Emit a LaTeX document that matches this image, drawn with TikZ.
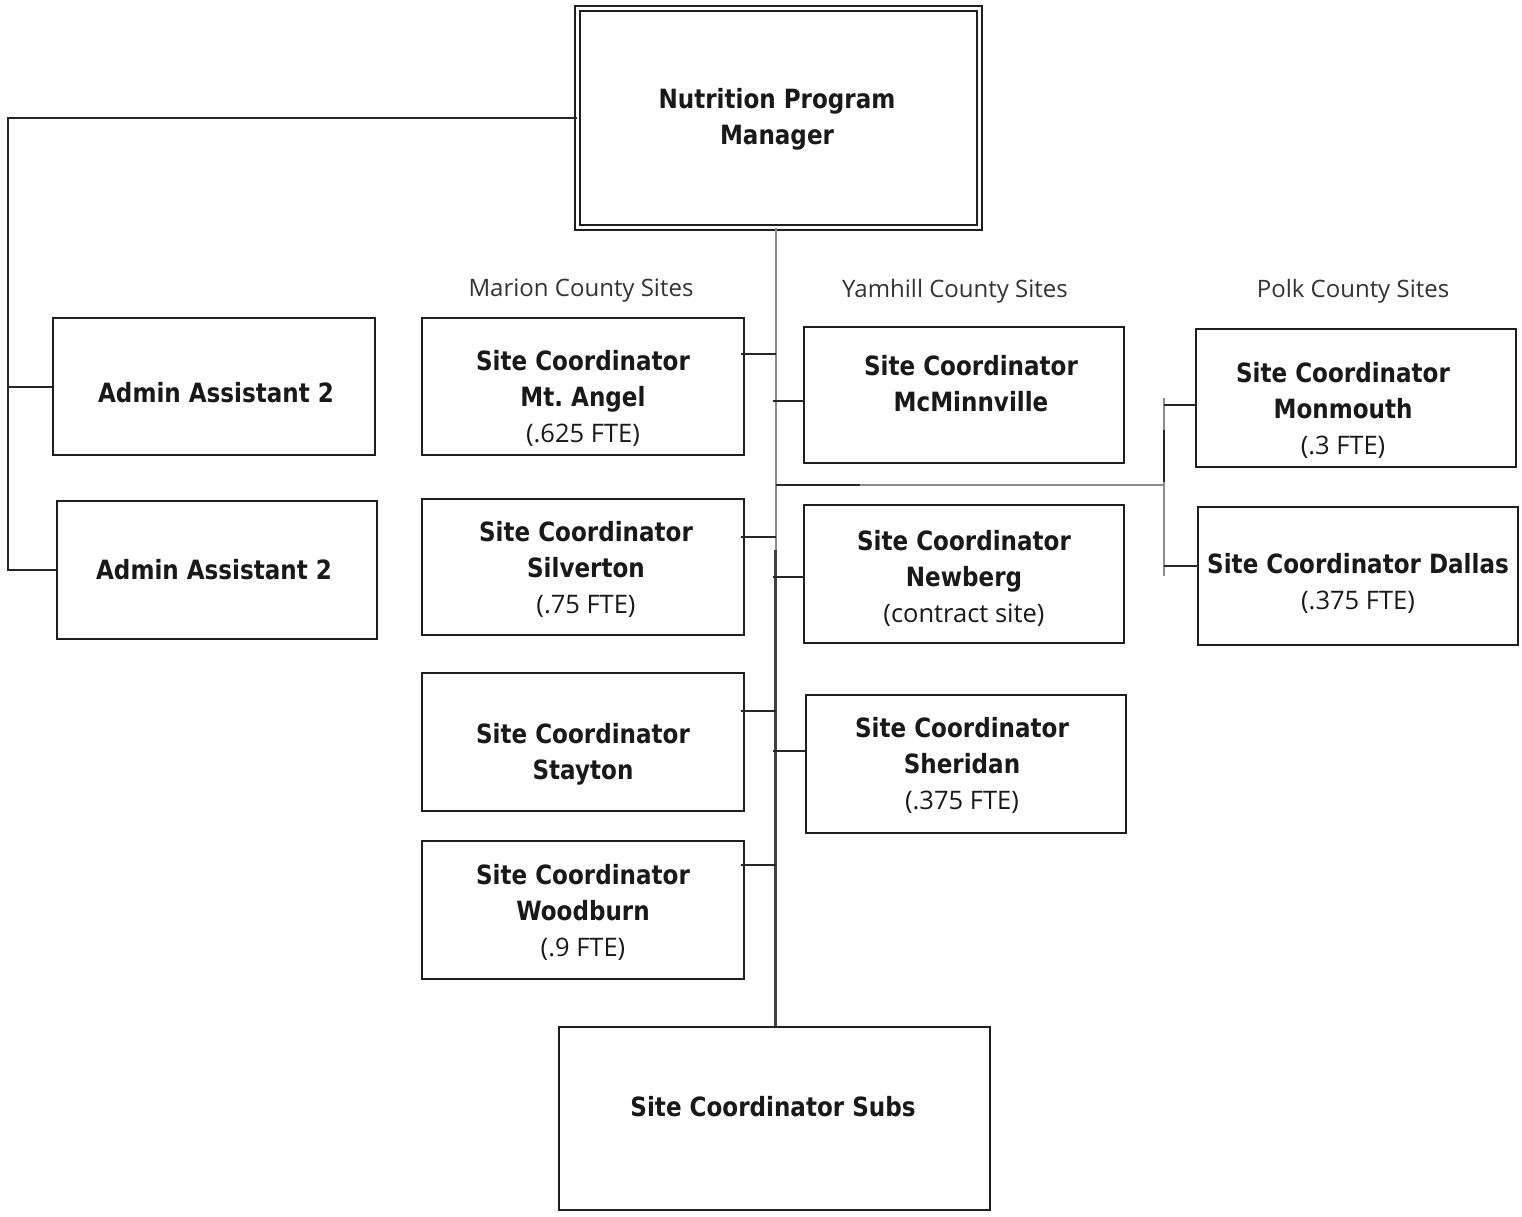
\documentclass[tikz,border=0pt]{standalone}
\usepackage{fontspec}
\setmainfont{Open Sans}
\newfontfamily\boxbold{DejaVu Sans}[FakeStretch=0.87]
\usetikzlibrary{calc}
\newcommand{\bl}[1]{{\boxbold\bfseries\fontsize{26.5}{36}\selectfont #1}}
\frenchspacing
\begin{document}
\begin{tikzpicture}[x=1pt,y=-1pt,
  box/.style={draw=black!88, line width=2pt, rectangle, inner sep=0pt, fill=white},
  txt/.style={align=center, inner sep=0pt, text=black!90,
    font={\fontsize{25.5}{36}\selectfont}},
  lbl/.style={inner sep=0pt, text=black!80, font={\fontsize{24}{28}\selectfont}},
  dline/.style={draw=black!85, line width=2pt},
  gline/.style={draw=black!45, line width=2pt},
  bline/.style={draw=black!75, line width=2.4pt}]
\useasboundingbox[fill=white] (0,0) rectangle (1522,1217);

% ---- boxes ----
\node[box, double, double distance=3pt, line width=2pt, minimum width=402pt, minimum height=219pt] (mgr) at (778.5,117.75) {};
\node[box, minimum width=322pt, minimum height=137pt] (aa1) at (214,386.5) {};
\node[box, minimum width=320pt, minimum height=138pt] (aa2) at (217,570) {};
\node[box, minimum width=322pt, minimum height=137pt] (ma)  at (583,386.5) {};
\node[box, minimum width=322pt, minimum height=136pt] (sil) at (583,567) {};
\node[box, minimum width=322pt, minimum height=138pt] (sta) at (583,742) {};
\node[box, minimum width=322pt, minimum height=138pt] (woo) at (583,910) {};
\node[box, minimum width=320pt, minimum height=136pt] (mcm) at (964,395) {};
\node[box, minimum width=320pt, minimum height=138pt] (new) at (964,574) {};
\node[box, minimum width=320pt, minimum height=138pt] (she) at (966,764) {};
\node[box, minimum width=320pt, minimum height=138pt] (mon) at (1356,398) {};
\node[box, minimum width=320pt, minimum height=138pt] (dal) at (1358,576) {};
\node[box, minimum width=431pt, minimum height=183pt] (subs) at (774.5,1118.5) {};

% ---- box texts ----
\node[txt] (tmgr) at (777,119) {\bl{Nutrition Program}\\\bl{Manager}};
\node[txt] (taa1) at (216,393) {\bl{Admin Assistant 2}};
\node[txt] (taa2) at (214,570) {\bl{Admin Assistant 2}};
\node[txt] (tma)  at (583,398) {\bl{Site Coordinator}\\\bl{Mt. Angel}\\(.625 FTE)};
\node[txt] (tsil) at (586,569) {\bl{Site Coordinator}\\\bl{Silverton}\\(.75 FTE)};
\node[txt] (tsta) at (583,754) {\bl{Site Coordinator}\\\bl{Stayton}};
\node[txt] (twoo) at (583,912) {\bl{Site Coordinator}\\\bl{Woodburn}\\(.9 FTE)};
\node[txt] (tmcm) at (971,384) {\bl{Site Coordinator}\\\bl{McMinnville}};
\node[txt] (tnew) at (964,578) {\bl{Site Coordinator}\\\bl{Newberg}\\(contract site)};
\node[txt] (tshe) at (962,765) {\bl{Site Coordinator}\\\bl{Sheridan}\\(.375 FTE)};
\node[txt] (tmon) at (1343,410) {\bl{Site Coordinator}\\\bl{Monmouth}\\(.3 FTE)};
\node[txt] (tdal) at (1358,583) {\bl{Site Coordinator Dallas}\\(.375 FTE)};
\node[txt] (tsubs) at (773,1107) {\bl{Site Coordinator Subs}};

% ---- county headings ----
\node[lbl] (hmar) at (581,291) {Marion County Sites};
\node[lbl] (hyam) at (955,291) {Yamhill County Sites};
\node[lbl] (hpol) at (1353,291) {Polk County Sites};

% ---- admin branch ----
\coordinate (lx) at (8,117.75);
\draw[dline] (mgr.west) -- (lx) -- (lx |- aa2.west) -- (aa2.west);
\draw[dline] (lx |- aa1.west) -- (aa1.west);

% ---- main trunk ----
\coordinate (tk) at (775.5,0);
\coordinate (tsplit) at (775.5,550);
\draw[gline] (tk |- mgr.south) -- (tsplit);
\draw[bline] (tsplit) -- (tk |- subs.north);

% ---- Marion stubs ----
\foreach \b/\yy in {ma/354, sil/537, sta/711, woo/865}
  \draw[dline] ($(\b.east |- 0,\yy)+(-4,0)$) -- (tk |- 0,\yy);

% ---- Yamhill stubs ----
\foreach \b/\yy in {mcm/401, new/577, she/751}
  \draw[dline] ($(tk |- 0,\yy)+(-3,0)$) -- (\b.west |- 0,\yy);

% ---- Polk branch ----
\coordinate (px) at (1164,485);
\coordinate (pmid) at (860,485);
\draw[dline] (tk |- px) -- (pmid);
\draw[gline] (pmid) -- (px);
\draw[gline] (px |- mon.west) -- (px |- 0,430);
\draw[dline] (px |- 0,430) -- (px |- 0,482);
\draw[gline] (px |- 0,482) -- (px |- dal.west);
\draw[dline] (px |- 0,405) -- (mon.west |- 0,405);
\draw[dline] (px |- 0,566) -- (dal.west |- 0,566);
\end{tikzpicture}
\end{document}
